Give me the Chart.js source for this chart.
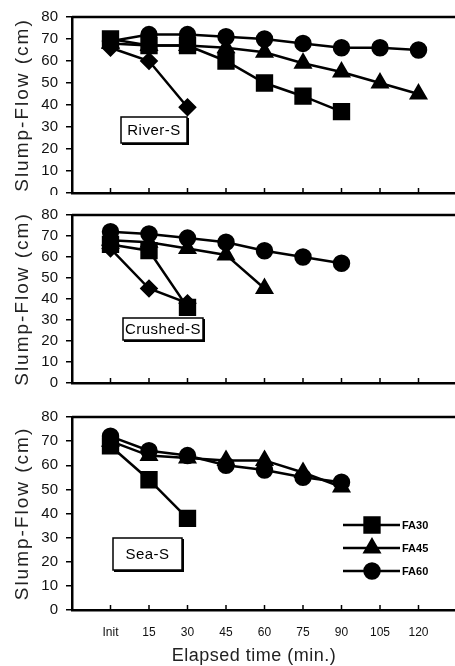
<!DOCTYPE html>
<html>
<head>
<meta charset="utf-8">
<script src="https://cdn.jsdelivr.net/npm/chart.js@4.4.1/dist/chart.umd.min.js"></script>
<style>
	html, body { margin: 0; padding: 0; background: #fff; width: 455px; height: 666px; overflow: hidden; }
	.panel { position: absolute; left: 0; width: 462px; background: #fff; }
</style>
</head>
<body>
<div class="panel" style="top:0;height:210px"><canvas id="river"></canvas></div>
<div class="panel" style="top:195px;height:205px"><canvas id="crushed"></canvas></div>
<div class="panel" style="top:400px;height:266px"><canvas id="sea"></canvas></div>
<script>
const times = [0, 15, 30, 45, 60, 75, 90, 105, 120];
const timeLabels = ['Init', '15', '30', '45', '60', '75', '90', '105', '120'];
const yTicks = [0, 10, 20, 30, 40, 50, 60, 70, 80];
const seriesNames = ['FA30', 'FA45', 'FA60'];

// River-S
const riverFA30 = [70, 67, 67, 60, 50, 44, 37, null, null];
const riverFA45 = [68, 67, 67, 66, 64, 59, 55, 50, 45];
const riverFA60 = [69, 72, 72, 71, 70, 68, 66, 66, 65];
const riverDiamond = [66, 60, 39, null, null, null, null, null, null];

// Crushed-S
const crushedFA30 = [66, 63, 36, null, null, null, null, null, null];
const crushedFA45 = [68, 67, 64, 61, 45, null, null, null, null];
const crushedFA60 = [72, 71, 69, 67, 63, 60, 57, null, null];
const crushedDiamond = [64, 45, 38, null, null, null, null, null, null];

// Sea-S
const seaFA30 = [68, 54, 38, null, null, null, null, null, null];
const seaFA45 = [70, 64, 63, 62, 62, 57, 51, null, null];
const seaFA60 = [72, 66, 64, 60, 58, 55, 53, null, null];

const font = 'Liberation Sans, Arial, sans-serif';
const markers = {
	FA30: {pointStyle: 'rect', pointRadius: 10.5},
	FA45: {pointStyle: 'triangle', pointRadius: 8.5},
	FA60: {pointStyle: 'circle', pointRadius: 7.5},
	diamond: {pointStyle: 'rectRot', pointRadius: 7.5},
};

function toPoints (arr) {
	return arr.map((v, i) => v === null ? null : {x: times[i], y: v}).filter(p => p);
}

function makeDataset (arr, key) {
	return Object.assign({
		label: key,
		data: toPoints(arr),
		borderColor: '#000',
		backgroundColor: '#000',
		borderWidth: 2.5,
		tension: 0,
		clip: false,
	}, markers[key]);
}

const decorations = {
	id: 'decorations',
	afterDraw(chart, args, opts) {
		const {ctx, chartArea: area, scales: {x}} = chart;
		ctx.save();
		ctx.strokeStyle = '#000';
		ctx.fillStyle = '#000';

		// top edge of the frame
		ctx.lineWidth = 2.5;
		ctx.beginPath();
		ctx.moveTo(area.left, area.top);
		ctx.lineTo(area.right, area.top);
		ctx.stroke();

		// inward ticks on the time axis
		ctx.lineWidth = 1.5;
		times.forEach(t => {
			const px = x.getPixelForValue(t);
			ctx.beginPath();
			ctx.moveTo(px, area.bottom);
			ctx.lineTo(px, area.bottom - 5);
			ctx.stroke();
		});

		// y axis title
		ctx.save();
		ctx.translate(23, (area.top + area.bottom) / 2);
		ctx.rotate(-Math.PI / 2);
		ctx.font = '19px ' + font;
		ctx.letterSpacing = '2px';
		ctx.fillStyle = '#222';
		ctx.textAlign = 'center';
		ctx.textBaseline = 'middle';
		ctx.fillText('Slump-Flow (cm)', 0, 0);
		ctx.restore();

		// sand type box
		const b = opts.box;
		ctx.lineWidth = 1.5;
		ctx.strokeRect(b.x, b.y, b.w, b.h);
		ctx.fillRect(b.x + b.w, b.y + 1, 2, b.h + 1);
		ctx.fillRect(b.x + 1, b.y + b.h, b.w + 1, 2);
		ctx.font = '15px ' + font;
		ctx.letterSpacing = '0.5px';
		ctx.textAlign = 'center';
		ctx.textBaseline = 'middle';
		ctx.fillText(b.text, b.x + b.w / 2, b.y + b.h / 2 + 1);

		if (opts.legend) {
			const helpers = Chart.helpers;
			ctx.letterSpacing = '0px';
			ctx.font = 'bold 11px ' + font;
			ctx.textAlign = 'left';
			seriesNames.forEach((name, i) => {
				const y = 125 + i * 23;
				ctx.lineWidth = 2.5;
				ctx.beginPath();
				ctx.moveTo(343, y);
				ctx.lineTo(400, y);
				ctx.stroke();
				helpers.drawPoint(ctx, {pointStyle: markers[name].pointStyle, radius: markers[name].pointRadius, borderWidth: 1}, 372, y);
				ctx.fill();
				ctx.fillText(name, 402, y + 1);
			});
		}

		if (opts.xTitle) {
			ctx.letterSpacing = '0.5px';
			ctx.font = '18px ' + font;
			ctx.fillStyle = '#222';
			ctx.textAlign = 'center';
			ctx.textBaseline = 'middle';
			ctx.fillText('Elapsed time (min.)', 254, 256);
		}
		ctx.restore();
	}
};

function renderPanel (canvasId, datasets, cfg) {
	new Chart(document.getElementById(canvasId), {
		type: 'line',
		data: {datasets},
		options: {
			animation: false,
			responsive: true,
			maintainAspectRatio: false,
			layout: {
				autoPadding: false,
				padding: {top: cfg.top, right: 5, left: 0, bottom: 0},
			},
			plugins: {
				legend: {display: false},
				tooltip: {enabled: false},
				decorations: {box: cfg.box, legend: cfg.legend, xTitle: cfg.xTitle},
			},
			scales: {
				x: {
					type: 'linear',
					min: -15,
					max: 135,
					afterBuildTicks: s => { s.ticks = times.map(v => ({value: v})); },
					afterFit: s => { s.height = cfg.xHeight; },
					grid: {display: false, drawTicks: false},
					border: {display: true, color: '#000', width: 2.5},
					ticks: {
						display: !!cfg.xTitle,
						padding: 15,
						autoSkip: false,
						maxRotation: 0,
						color: '#111',
						font: {family: font, size: 12},
						callback: v => timeLabels[times.indexOf(v)],
					},
				},
				y: {
					min: 0,
					max: 80,
					afterBuildTicks: s => { s.ticks = yTicks.map(v => ({value: v})); },
					afterFit: s => { s.width = 72; },
					grid: {drawOnChartArea: false, drawTicks: true, tickLength: 6, color: '#000', lineWidth: 1.5},
					border: {display: true, color: '#000', width: 2.5},
					ticks: {padding: 8, color: '#111', font: {family: font, size: 15}},
				},
			},
		},
		plugins: [decorations],
	});
}

renderPanel('river', [
	makeDataset(riverDiamond, 'diamond'),
	makeDataset(riverFA30, 'FA30'),
	makeDataset(riverFA45, 'FA45'),
	makeDataset(riverFA60, 'FA60'),
], {top: 12, xHeight: 4, box: {text: 'River-S', x: 121, y: 117, w: 66, h: 26}});

renderPanel('crushed', [
	makeDataset(crushedDiamond, 'diamond'),
	makeDataset(crushedFA30, 'FA30'),
	makeDataset(crushedFA45, 'FA45'),
	makeDataset(crushedFA60, 'FA60'),
], {top: 20, xHeight: 4, box: {text: 'Crushed-S', x: 123, y: 123, w: 80, h: 22}});

renderPanel('sea', [
	makeDataset(seaFA30, 'FA30'),
	makeDataset(seaFA45, 'FA45'),
	makeDataset(seaFA60, 'FA60'),
], {top: 15, xHeight: 56, legend: true, xTitle: true, box: {text: 'Sea-S', x: 113, y: 138, w: 69, h: 32}});
</script>
</body>
</html>
